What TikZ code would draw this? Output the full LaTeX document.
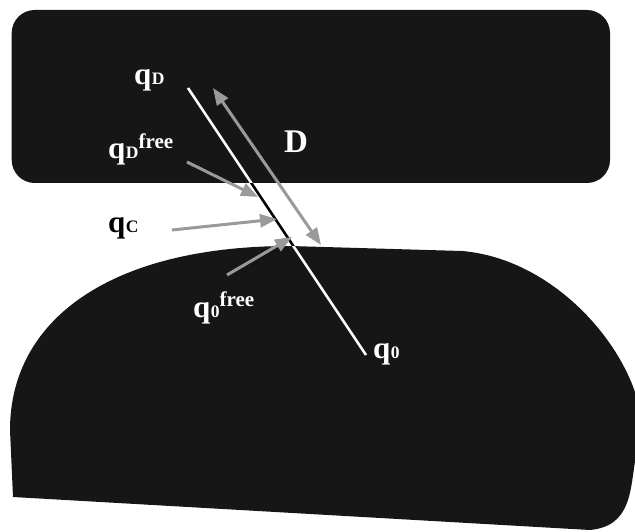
\documentclass[tikz,border=0pt]{standalone}
\usepackage{fontspec}
\setmainfont{Liberation Serif}
\usepackage{xcolor}
\usepackage{tikz}
\usetikzlibrary{arrows.meta}

\definecolor{obst}{HTML}{161616}
\definecolor{arrowgray}{HTML}{9A9A9A}
\newcommand{\qsub}[1]{q\kern0.5pt{\fontsize{17.5}{17.5}\selectfont #1}}
\newcommand{\freesup}{\raisebox{10.5pt}{\fontsize{21}{21}\selectfont free}}
\newcommand{\blobshape}{(13,497) -- (10,430) .. controls (10,320) and (110,246) .. (290,246)
  -- (462,251) .. controls (545,258) and (615,330) .. (636,395)
  -- (636,455) .. controls (630,490) and (632,526) .. (590,530) -- cycle}

\begin{document}
\begin{tikzpicture}[x=1pt, y=-1pt,
  obstacle/.style={fill=obst},
  path line/.style={line width=2.6pt},
  arrow/.style={draw=arrowgray, line width=3pt, -{Triangle[length=17pt, width=13pt]}, arrowgray},
  label/.style={anchor=base west, inner sep=0pt, font=\bfseries\fontsize{31}{31}\selectfont, text=white},
]
\useasboundingbox (0,0) rectangle (635,532);
\fill[obstacle, rounded corners=23pt] (11.7,10) rectangle (610,183);
\fill[obstacle] \blobshape;

\coordinate (qDend) at (188,88);
\coordinate (q0end) at (366,355);
\draw[path line, black] (qDend) -- (q0end);
\begin{scope}
  \clip[rounded corners=23pt] (11.7,10) rectangle (610,183);
  \draw[path line, white] (qDend) -- (q0end);
\end{scope}
\begin{scope}
  \clip \blobshape;
  \draw[path line, white] (qDend) -- (q0end);
\end{scope}

\node[label] (qD) at (134,85) {\qsub{D}};
\node[label] (qDfree) at (108,159) {\qsub{D}\freesup};
\node[label, text=black] (qC) at (108,233) {\qsub{C}};
\node[label] (q0free) at (193,317) {\qsub{0}\freesup};
\node[label] (q0) at (373,358) {\qsub{0}};
\node[label, font=\bfseries\fontsize{33}{33}\selectfont] (D) at (284,153) {D};

\coordinate (Dtop) at (213,88);
\coordinate (Dbot) at (321,245);
\coordinate (qDfreetail) at (187,162);
\coordinate (qDfreetip) at (258,197);
\coordinate (qCtail) at (172,230);
\coordinate (qCtip) at (277,219);
\coordinate (q0freetail) at (227,275);
\coordinate (q0freetip) at (292,237);
\draw[arrow, {Triangle[length=17pt, width=13pt]}-{Triangle[length=17pt, width=13pt]}] (Dtop) -- (Dbot);
\draw[arrow] (qDfreetail) -- (qDfreetip);
\draw[arrow] (qCtail) -- (qCtip);
\draw[arrow] (q0freetail) -- (q0freetip);
\end{tikzpicture}
\end{document}
